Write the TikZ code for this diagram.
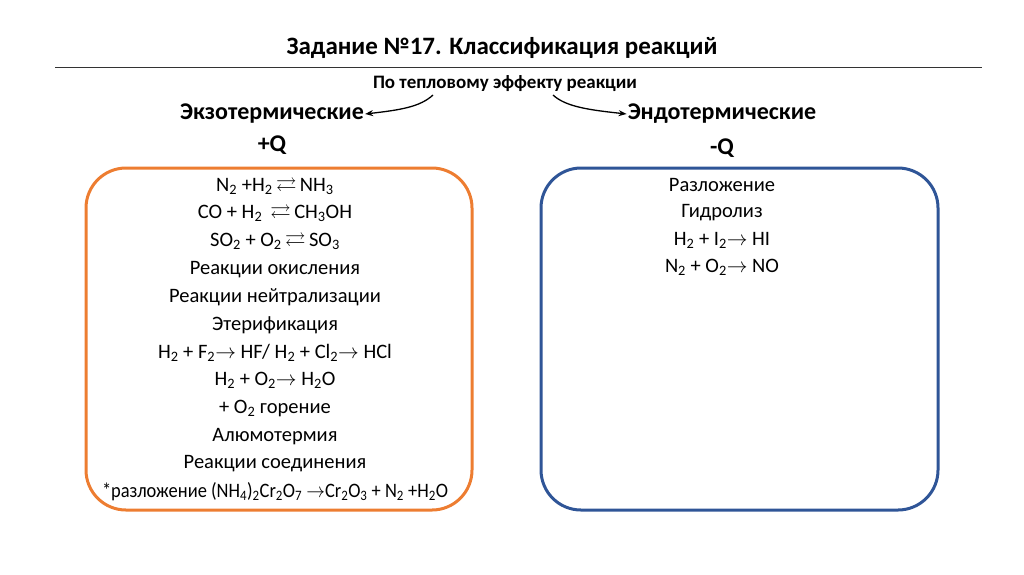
\documentclass[tikz,border=0pt]{standalone}
\usepackage{fontspec}
\usepackage{amssymb}
\setmainfont{Carlito}
\usetikzlibrary{arrows.meta,positioning}
\definecolor{exoorange}{RGB}{237,125,49}
\definecolor{endoblue}{RGB}{47,85,151}
\newcommand{\sub}[1]{\textsubscript{#1}}
\newcommand{\eqarr}{\,$\rightleftarrows$\,}
\newcommand{\toarr}{$\rightarrow$}
\begin{document}
\begin{tikzpicture}[x=1pt,y=-1pt,
  every node/.style={font=\fontsize{20.5}{22}\selectfont,inner sep=1pt},
  head/.style={font=\bfseries\fontsize{24}{27}\selectfont},
  frame/.style={rounded corners=40pt,line width=3pt},
  curvearrow/.style={line width=1.3pt,-{Stealth[length=8pt,width=6pt]}}]
  \useasboundingbox (0,0) rectangle (1024,574);
  % title
  \node[font=\bfseries\fontsize{25}{28}\selectfont] (title) at (502,48) {Задание №17. Классификация реакций};
  \draw[line width=1pt,black!80] (55,67) -- (982,67);
  \node[font=\bfseries\fontsize{19}{21}\selectfont] (sub) at (505,84) {По тепловому эффекту реакции};
  % headers
  \node[head] (exo) at (272,114) {Экзотермические};
  \node[head] (exoq) at (272,145) {+Q};
  \node[head] (endo) at (722,114) {Эндотермические};
  \node[head] (endoq) at (722,148) {-Q};
  \draw[curvearrow] (433,95) .. controls (420,107) and (400,110) .. (exo.east);
  \draw[curvearrow] (553,95) .. controls (566,107) and (590,110) .. (endo.west);
  % boxes
  \draw[frame,exoorange] (86,168) rectangle (472,510);
  \draw[frame,endoblue] (541,168) rectangle (938,510);
  % exothermic list
  \foreach \t [count=\i] in {
    {N\sub{2} +H\sub{2}\eqarr NH\sub{3}},
    {CO + H\sub{2} \eqarr CH\sub{3}OH},
    {SO\sub{2} + O\sub{2}\eqarr SO\sub{3}},
    {Реакции окисления},
    {Реакции нейтрализации},
    {Этерификация},
    {H\sub{2} + F\sub{2}\toarr{} HF/ H\sub{2} + Cl\sub{2}\toarr{} HCl},
    {H\sub{2} + O\sub{2}\toarr{} H\sub{2}O},
    {+ O\sub{2} горение},
    {Алюмотермия},
    {Реакции соединения},
    {\scalebox{0.9}[1]{*разложение (NH\sub{4})\sub{2}Cr\sub{2}O\sub{7} \toarr Cr\sub{2}O\sub{3} + N\sub{2} +H\sub{2}O}}}
    \node (ex\i) at (275,{186+27.8*(\i-1)}) {\t};
  % endothermic list
  \foreach \t [count=\i] in {
    {Разложение},
    {Гидролиз},
    {H\sub{2} + I\sub{2}\toarr{} HI},
    {N\sub{2} + O\sub{2}\toarr{} NO}}
    \node (en\i) at (722,{185+27.5*(\i-1)}) {\t};
\end{tikzpicture}
\end{document}
